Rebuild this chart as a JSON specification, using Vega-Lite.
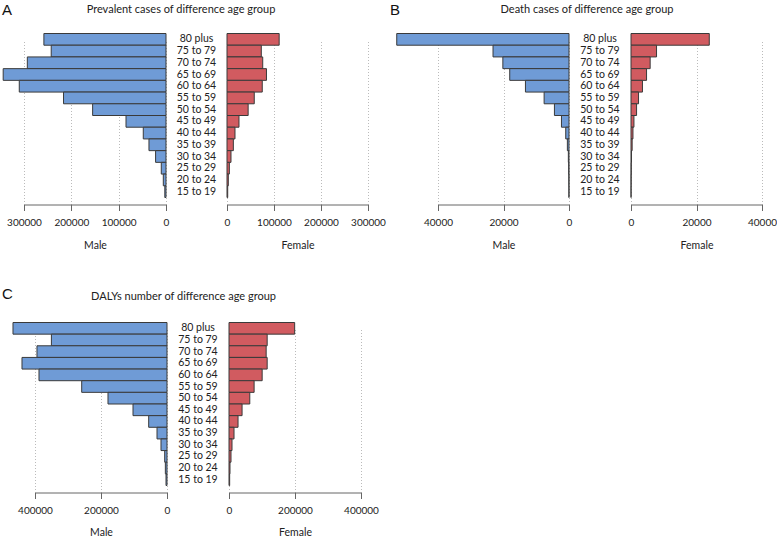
{
  "$schema": "https://vega.github.io/schema/vega-lite/v6.json",
  "padding": {"left": 2, "top": 2.5, "right": 0, "bottom": 0},
  "autosize": {"type": "pad"},
  "config": {
    "view": {"stroke": null},
    "font": "Lato",
    "axis": {"labelFont": "Lato", "labelFontSize": 10, "labelColor": "#222", "titleFont": "Lato", "titleFontSize": 10.5, "titleFontWeight": "normal", "titleColor": "#222", "domainColor": "#666", "tickColor": "#666", "tickSize": 6, "labelPadding": 7, "titlePadding": 13, "grid": true, "gridDash": [1, 2], "gridColor": "#bbb", "offset": 7, "labelFlush": false, "labelOverlap": false, "format": "d"},
    "title": {"font": "Lato", "fontSize": 11, "fontWeight": "normal", "color": "#222", "offset": 19},
    "bar": {"stroke": "#3a3a3a", "strokeWidth": 1},
    "text": {"font": "Lato", "fontSize": 10.5, "color": "#222", "align": "center"}
  },
  "datasets": {
    "A": [
      {"age": "80 plus", "male": 258000, "female": 111000},
      {"age": "75 to 79", "male": 242500, "female": 73000},
      {"age": "70 to 74", "male": 293000, "female": 76000},
      {"age": "65 to 69", "male": 344000, "female": 84000},
      {"age": "60 to 64", "male": 310000, "female": 75000},
      {"age": "55 to 59", "male": 216500, "female": 58000},
      {"age": "50 to 54", "male": 155000, "female": 45000},
      {"age": "45 to 49", "male": 84500, "female": 25500},
      {"age": "40 to 44", "male": 48000, "female": 17000},
      {"age": "35 to 39", "male": 36000, "female": 13500},
      {"age": "30 to 34", "male": 22000, "female": 8500},
      {"age": "25 to 29", "male": 10000, "female": 5000},
      {"age": "20 to 24", "male": 5700, "female": 2800},
      {"age": "15 to 19", "male": 2500, "female": 1500}
    ],
    "B": [
      {"age": "80 plus", "male": 52600, "female": 23900},
      {"age": "75 to 79", "male": 23200, "female": 7800},
      {"age": "70 to 74", "male": 20200, "female": 5850},
      {"age": "65 to 69", "male": 18100, "female": 4750},
      {"age": "60 to 64", "male": 13300, "female": 3500},
      {"age": "55 to 59", "male": 7600, "female": 2300},
      {"age": "50 to 54", "male": 4450, "female": 1700},
      {"age": "45 to 49", "male": 2300, "female": 900},
      {"age": "40 to 44", "male": 1000, "female": 600},
      {"age": "35 to 39", "male": 500, "female": 350},
      {"age": "30 to 34", "male": 200, "female": 150},
      {"age": "25 to 29", "male": 100, "female": 80},
      {"age": "20 to 24", "male": 50, "female": 40},
      {"age": "15 to 19", "male": 30, "female": 20}
    ],
    "C": [
      {"age": "80 plus", "male": 466700, "female": 199000},
      {"age": "75 to 79", "male": 350300, "female": 115700},
      {"age": "70 to 74", "male": 394000, "female": 112600},
      {"age": "65 to 69", "male": 439400, "female": 115700},
      {"age": "60 to 64", "male": 387900, "female": 100500},
      {"age": "55 to 59", "male": 258500, "female": 76100},
      {"age": "50 to 54", "male": 178800, "female": 63000},
      {"age": "45 to 49", "male": 103000, "female": 39600},
      {"age": "40 to 44", "male": 55500, "female": 27400},
      {"age": "35 to 39", "male": 30300, "female": 15200},
      {"age": "30 to 34", "male": 18200, "female": 9100},
      {"age": "25 to 29", "male": 7000, "female": 6100},
      {"age": "20 to 24", "male": 5000, "female": 3000},
      {"age": "15 to 19", "male": 3000, "female": 2000}
    ]
  },
  "vconcat": [
    {
      "hconcat": [
        {
          "hconcat": [
            {
              "data": {"name": "A"},
              "width": 142, "height": 164,
              "title": {"text": "A", "anchor": "start", "frame": "group", "dx": -22, "font": "Liberation Sans", "fontSize": 15, "color": "#111", "offset": 15},
              "mark": {"type": "bar", "color": "#6f9bd6", "clip": false},
              "encoding": {
                "y": {"field": "age", "type": "nominal", "sort": ["80 plus", "75 to 79", "70 to 74", "65 to 69", "60 to 64", "55 to 59", "50 to 54", "45 to 49", "40 to 44", "35 to 39", "30 to 34", "25 to 29", "20 to 24", "15 to 19"], "axis": null, "scale": {"paddingInner": 0, "paddingOuter": 0}},
                "x": {"field": "male", "type": "quantitative", "scale": {"domain": [0, 300000], "reverse": true, "nice": false}, "axis": {"values": [0, 100000, 200000, 300000], "title": "Male"}}
              }
            },
            {
              "data": {"name": "A"},
              "width": 61, "height": 164,
              "title": {"text": "Prevalent cases of difference age group", "dx": -15.5},
              "mark": {"type": "text"},
              "encoding": {
                "y": {"field": "age", "type": "nominal", "sort": ["80 plus", "75 to 79", "70 to 74", "65 to 69", "60 to 64", "55 to 59", "50 to 54", "45 to 49", "40 to 44", "35 to 39", "30 to 34", "25 to 29", "20 to 24", "15 to 19"], "axis": null, "scale": {"paddingInner": 0, "paddingOuter": 0}},
                "x": {"datum": 0, "type": "quantitative", "scale": {"domain": [-1, 1]}, "axis": null},
                "text": {"field": "age"}
              }
            },
            {
              "data": {"name": "A"},
              "width": 141, "height": 164,
              "mark": {"type": "bar", "color": "#d15b60", "clip": false},
              "encoding": {
                "y": {"field": "age", "type": "nominal", "sort": ["80 plus", "75 to 79", "70 to 74", "65 to 69", "60 to 64", "55 to 59", "50 to 54", "45 to 49", "40 to 44", "35 to 39", "30 to 34", "25 to 29", "20 to 24", "15 to 19"], "axis": null, "scale": {"paddingInner": 0, "paddingOuter": 0}},
                "x": {"field": "female", "type": "quantitative", "scale": {"domain": [0, 300000], "nice": false}, "axis": {"values": [0, 100000, 200000, 300000], "title": "Female"}}
              }
            }
          ],
          "spacing": 0,
          "bounds": "flush"
        },
        {
          "hconcat": [
            {
              "data": {"name": "B"},
              "width": 131, "height": 164,
              "title": {"text": "B", "anchor": "start", "frame": "group", "dx": -48, "font": "Liberation Sans", "fontSize": 15, "color": "#111", "offset": 15},
              "mark": {"type": "bar", "color": "#6f9bd6", "clip": false},
              "encoding": {
                "y": {"field": "age", "type": "nominal", "sort": ["80 plus", "75 to 79", "70 to 74", "65 to 69", "60 to 64", "55 to 59", "50 to 54", "45 to 49", "40 to 44", "35 to 39", "30 to 34", "25 to 29", "20 to 24", "15 to 19"], "axis": null, "scale": {"paddingInner": 0, "paddingOuter": 0}},
                "x": {"field": "male", "type": "quantitative", "scale": {"domain": [0, 40000], "reverse": true, "nice": false}, "axis": {"values": [0, 20000, 40000], "title": "Male"}}
              }
            },
            {
              "data": {"name": "B"},
              "width": 62, "height": 164,
              "title": {"text": "Death cases of difference age group", "dx": -13},
              "mark": {"type": "text"},
              "encoding": {
                "y": {"field": "age", "type": "nominal", "sort": ["80 plus", "75 to 79", "70 to 74", "65 to 69", "60 to 64", "55 to 59", "50 to 54", "45 to 49", "40 to 44", "35 to 39", "30 to 34", "25 to 29", "20 to 24", "15 to 19"], "axis": null, "scale": {"paddingInner": 0, "paddingOuter": 0}},
                "x": {"datum": 0, "type": "quantitative", "scale": {"domain": [-1, 1]}, "axis": null},
                "text": {"field": "age"}
              }
            },
            {
              "data": {"name": "B"},
              "width": 131, "height": 164,
              "mark": {"type": "bar", "color": "#d15b60", "clip": false},
              "encoding": {
                "y": {"field": "age", "type": "nominal", "sort": ["80 plus", "75 to 79", "70 to 74", "65 to 69", "60 to 64", "55 to 59", "50 to 54", "45 to 49", "40 to 44", "35 to 39", "30 to 34", "25 to 29", "20 to 24", "15 to 19"], "axis": null, "scale": {"paddingInner": 0, "paddingOuter": 0}},
                "x": {"field": "female", "type": "quantitative", "scale": {"domain": [0, 40000], "nice": false}, "axis": {"values": [0, 20000, 40000], "title": "Female"}}
              }
            }
          ],
          "spacing": 0,
          "bounds": "flush"
        }
      ],
      "spacing": 4
    },
    {
      "hconcat": [
        {
          "data": {"values": [{"k": 0}]},
          "width": 11, "height": 163,
          "mark": {"type": "point", "opacity": 0},
          "encoding": {}
        },
        {
          "data": {"name": "C"},
          "width": 132, "height": 163,
          "title": {"text": "C", "anchor": "start", "frame": "group", "dx": -33, "font": "Liberation Sans", "fontSize": 15, "color": "#111", "offset": 20},
          "mark": {"type": "bar", "color": "#6f9bd6", "clip": false},
          "encoding": {
            "y": {"field": "age", "type": "nominal", "sort": ["80 plus", "75 to 79", "70 to 74", "65 to 69", "60 to 64", "55 to 59", "50 to 54", "45 to 49", "40 to 44", "35 to 39", "30 to 34", "25 to 29", "20 to 24", "15 to 19"], "axis": null, "scale": {"paddingInner": 0, "paddingOuter": 0}},
            "x": {"field": "male", "type": "quantitative", "scale": {"domain": [0, 400000], "reverse": true, "nice": false}, "axis": {"values": [0, 200000, 400000], "title": "Male", "titlePadding": 12}}
          }
        },
        {
          "data": {"name": "C"},
          "width": 62, "height": 163,
          "title": {"text": "DALYs number of difference age group", "dx": -14.5, "offset": 21},
          "mark": {"type": "text"},
          "encoding": {
            "y": {"field": "age", "type": "nominal", "sort": ["80 plus", "75 to 79", "70 to 74", "65 to 69", "60 to 64", "55 to 59", "50 to 54", "45 to 49", "40 to 44", "35 to 39", "30 to 34", "25 to 29", "20 to 24", "15 to 19"], "axis": null, "scale": {"paddingInner": 0, "paddingOuter": 0}},
            "x": {"datum": 0, "type": "quantitative", "scale": {"domain": [-1, 1]}, "axis": null},
            "text": {"field": "age"}
          }
        },
        {
          "data": {"name": "C"},
          "width": 132, "height": 163,
          "mark": {"type": "bar", "color": "#d15b60", "clip": false},
          "encoding": {
            "y": {"field": "age", "type": "nominal", "sort": ["80 plus", "75 to 79", "70 to 74", "65 to 69", "60 to 64", "55 to 59", "50 to 54", "45 to 49", "40 to 44", "35 to 39", "30 to 34", "25 to 29", "20 to 24", "15 to 19"], "axis": null, "scale": {"paddingInner": 0, "paddingOuter": 0}},
            "x": {"field": "female", "type": "quantitative", "scale": {"domain": [0, 400000], "nice": false}, "axis": {"values": [0, 200000, 400000], "title": "Female", "titlePadding": 12}}
          }
        }
      ],
      "spacing": 0,
      "bounds": "flush"
    }
  ],
  "spacing": 35
}
